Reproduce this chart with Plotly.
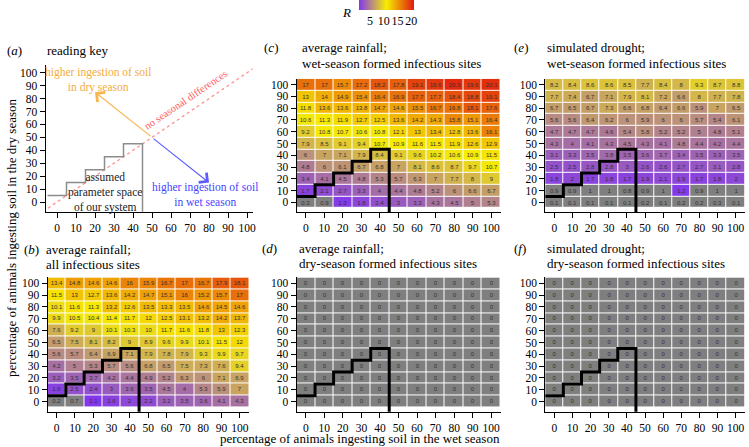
import plotly.graph_objects as go

W, H = 749, 447

# ---------------- data ----------------
pct = [0, 10, 20, 30, 40, 50, 60, 70, 80, 90, 100]   # % ingesting soil (both axes)
tick_vals = [0, 10, 20, 30, 40, 50, 60, 70, 80, 90, 100]
cbar_ticks = [5, 10, 15, 20]

# rows listed from dry-season 100 (top) down to 0 (bottom); columns wet-season 0..100
b_rows = [
    [13.4, 14.8, 14.6, 14.6, 16, 15.9, 16.7, 17, 16.7, 17.9, 18.1],
    [11.5, 13, 12.7, 13.6, 14.2, 14.7, 15.1, 16, 15.2, 15.7, 17],
    [10.1, 11.6, 11.3, 13.2, 12.6, 13.5, 13.3, 13.5, 14.6, 14.5, 14.6],
    [9.9, 10.5, 10.4, 11.4, 11.7, 12, 12.5, 13.1, 13.2, 14.2, 13.7],
    [7.6, 9.2, 9, 10.1, 10.3, 10, 11.7, 11.6, 11.8, 13, 12.3],
    [6.5, 7.5, 8.1, 8.2, 9, 8.9, 9.6, 9.9, 10.1, 11.5, 12],
    [5.6, 5.7, 6.4, 6.9, 7.1, 7.9, 7.8, 7.9, 9.3, 9.9, 9.7],
    [4.2, 5, 5.3, 5.7, 5.6, 6.8, 6.5, 7.5, 7.3, 7.6, 9.4],
    [3.2, 3.5, 3.7, 4.2, 4.4, 4.9, 5.2, 6.3, 6, 7.1, 6.9],
    [1.6, 2.5, 2.4, 3, 3.6, 3.5, 4.5, 4, 5.3, 5.9, 7],
    [0.2, 0.7, 1.1, 1.6, 2, 2.2, 3.2, 3.5, 3.6, 4.1, 4.3],
]
c_rows = [
    [17, 17, 15.7, 17.2, 18.2, 17.8, 19.1, 19.6, 20.3, 19.6, 20.1],
    [13, 14, 14.9, 15.4, 16.4, 16.9, 17.7, 17.7, 18.4, 18.8, 19.1],
    [11.8, 13.6, 13.6, 13.8, 14.7, 14.6, 15.5, 16.7, 16.8, 18.1, 17.6],
    [10.6, 11.3, 11.9, 12.7, 12.5, 13.6, 14.2, 14.3, 15.8, 15.1, 16.4],
    [9.2, 10.8, 10.7, 10.6, 10.8, 12.1, 13, 13.4, 12.8, 13.6, 16.1],
    [7.9, 8.5, 9.1, 9.4, 10.7, 10.9, 11.6, 11.5, 11.9, 12.6, 12.9],
    [6, 7, 7.1, 7.9, 8.4, 9.1, 9.6, 10.2, 10.6, 10.9, 11.5],
    [4.8, 6, 6.1, 6.7, 6.8, 7, 8.1, 8.6, 8.7, 9.7, 10.7],
    [3.4, 4.1, 4.5, 4.8, 5.3, 5.7, 6.3, 7, 7.7, 8, 9],
    [1.7, 2.1, 2.7, 3.3, 4, 4.4, 4.8, 5.2, 6, 6.6, 6.7],
    [0.3, 0.9, 1.3, 1.8, 2.4, 3, 3.3, 4.3, 4.5, 5, 5.3],
]
d_rows = [
    [0, 0, 0, 0, 0, 0, 0, 0, 0, 0, 0],
    [0, 0, 0, 0, 0, 0, 0, 0, 0, 0, 0],
    [0, 0, 0, 0, 0, 0, 0, 0, 0, 0, 0],
    [0, 0, 0, 0, 0, 0, 0, 0, 0, 0, 0],
    [0, 0, 0, 0, 0, 0, 0, 0, 0, 0, 0],
    [0, 0, 0, 0, 0, 0, 0, 0, 0, 0, 0],
    [0, 0, 0, 0, 0, 0, 0, 0, 0, 0, 0],
    [0, 0, 0, 0, 0, 0, 0, 0, 0, 0, 0],
    [0, 0, 0, 0, 0, 0, 0, 0, 0, 0, 0],
    [0, 0, 0, 0, 0, 0, 0, 0, 0, 0, 0],
    [0, 0, 0, 0, 0, 0, 0, 0, 0, 0, 0],
]
e_rows = [
    [8.2, 8.4, 8.6, 8.6, 8.5, 7.7, 8.4, 8, 9.3, 8.7, 8.8],
    [7.7, 7.4, 6.7, 7.1, 7.9, 8.1, 7.2, 6.6, 8, 7.7, 7.8],
    [6.7, 6.5, 6.7, 7.3, 6.6, 6.8, 6.4, 6.6, 5.9, 7, 6.5],
    [5.6, 5.6, 6.4, 6.2, 6, 5.9, 6, 6, 5.7, 5.4, 6.1],
    [4.7, 4.7, 4.7, 4.6, 5.4, 5.8, 5.2, 5.2, 5, 4.8, 5.1],
    [4.3, 4, 4.1, 4.3, 4.5, 4.3, 4.1, 4.8, 4.4, 4.2, 4.4],
    [3.1, 3.3, 3.5, 3.8, 3.5, 3.6, 3.7, 3.4, 3.5, 3.3, 3.5],
    [2.5, 2.5, 2.8, 2.8, 3, 2.6, 2.6, 2.7, 2.7, 3.1, 2.8],
    [1.8, 2, 1.7, 1.8, 1.7, 1.9, 2.1, 1.9, 1.7, 1.8, 2],
    [0.9, 0.9, 1, 1, 0.8, 0.9, 1, 1.2, 0.9, 1, 1],
    [0.1, 0.1, 0.1, 0.1, 0.1, 0.2, 0.1, 0.2, 0.2, 0.3, 0.1],
]
f_rows = [
    [0, 0, 0, 0, 0, 0, 0, 0, 0, 0, 0],
    [0, 0, 0, 0, 0, 0, 0, 0, 0, 0, 0],
    [0, 0, 0, 0, 0, 0, 0, 0, 0, 0, 0],
    [0, 0, 0, 0, 0, 0, 0, 0, 0, 0, 0],
    [0, 0, 0, 0, 0, 0, 0, 0, 0, 0, 0],
    [0, 0, 0, 0, 0, 0, 0, 0, 0, 0, 0],
    [0, 0, 0, 0, 0, 0, 0, 0, 0, 0, 0],
    [0, 0, 0, 0, 0, 0, 0, 0, 0, 0, 0],
    [0, 0, 0, 0, 0, 0, 0, 0, 0, 0, 0],
    [0, 0, 0, 0, 0, 0, 0, 0, 0, 0, 0],
    [0, 0, 0, 0, 0, 0, 0, 0, 0, 0, 0],
]

# boundary of the assumed parameter space (staircase)
stair_x = [-5, 5, 5, 15, 15, 25, 25, 35, 35, 45, 45]
stair_y = [5, 5, 15, 15, 25, 25, 35, 35, 45, 45, -30]

# reading-key elements
diag = [-10, 110]
arrow_origin = (50, 50)
arrow_dry = (20, 85)
arrow_wet = (80, 15)

R_MIN, R_MAX, R_DEAD = 1, 21, 1.05

# ---------------- styles ----------------
SERIF = "Liberation Serif, Tinos, Times New Roman, Times, DejaVu Serif, serif"
SANS = "Liberation Sans, Arimo, Arial, Helvetica, sans-serif"
GRAY = "#7f7f7f"
C_LOW, C_MID, C_HIGH = "#8236ee", "#f7ee00", "#e01a10"
heat_cs = [[0, GRAY], [R_DEAD / R_MAX, GRAY], [R_DEAD / R_MAX, C_LOW],
           [(R_MIN + R_MAX) / 2 / R_MAX, C_MID], [1, C_HIGH]]
bar_cs = [[0, C_LOW], [0.5, C_MID], [1, C_HIGH]]


def px_x(p):
    return p / W


def px_y(p):
    return 1 - p / H


# panel geometry in pixels: (x0, x1, ytop, ybottom)
panels = {
    "a": dict(px=(45.6, 252.7, 65, 211.7), xr=[-6, 103], yr=[-7.5, 106]),
    "b": dict(px=(47.5, 249, 277.4, 411.7), xr=[-5, 105], yr=[-8.5, 105]),
    "c": dict(px=(296.5, 500.5, 78.8, 212.3), xr=[-5, 105], yr=[-8.5, 105]),
    "d": dict(px=(296.5, 500.5, 277.4, 411.7), xr=[-5, 105], yr=[-8.5, 105]),
    "e": dict(px=(545.2, 744.8, 78.8, 212.3), xr=[-5, 105], yr=[-8.5, 105]),
    "f": dict(px=(545.2, 744.8, 277.4, 411.7), xr=[-5, 105], yr=[-8.5, 105]),
}
order = ["a", "b", "c", "d", "e", "f"]
data_map = {"b": b_rows, "c": c_rows, "d": d_rows, "e": e_rows, "f": f_rows}

fig = go.Figure()
layout = dict(
    width=W, height=H, margin=dict(l=0, r=0, t=0, b=0, pad=0, autoexpand=False),
    paper_bgcolor="white", plot_bgcolor="white", showlegend=False,
    font=dict(family=SERIF, size=12, color="black"),
)

annotations = []
for i, key in enumerate(order):
    n = i + 1
    sx = "" if n == 1 else str(n)
    p = panels[key]
    x0, x1, yt, yb = p["px"]
    axis_common = dict(
        showgrid=False, zeroline=False, showline=True, linecolor="black",
        linewidth=1, ticks="outside", ticklen=5, tickwidth=1.3, tickcolor="black",
        tickvals=tick_vals, tickfont=dict(family=SERIF, size=11.5, color="black"),
        fixedrange=True, automargin=False,
    )
    layout["xaxis" + sx] = dict(axis_common, domain=[px_x(x0), px_x(x1)], range=p["xr"],
                                anchor="y" + sx)
    layout["yaxis" + sx] = dict(axis_common, domain=[px_y(yb), px_y(yt)], range=p["yr"],
                                anchor="x" + sx)
    xa, ya = "x" + sx, "y" + sx

    if key == "a":
        fig.add_trace(go.Scatter(x=diag, y=diag, mode="lines", xaxis=xa, yaxis=ya,
                                 line=dict(color="#ff9090", width=1.3, dash="dot"),
                                 hoverinfo="skip"))
        fig.add_trace(go.Scatter(x=stair_x, y=stair_y, mode="lines", xaxis=xa, yaxis=ya,
                                 line=dict(color="#8c8c8c", width=1.5), hoverinfo="skip"))
        for tip, col in [(arrow_dry, "#f7b54a"), (arrow_wet, "#5b5bff")]:
            annotations.append(dict(
                x=tip[0], y=tip[1], ax=arrow_origin[0], ay=arrow_origin[1],
                xref=xa, yref=ya, axref=xa, ayref=ya, text="", showarrow=True,
                arrowhead=4, arrowsize=2.2, arrowwidth=1.1, arrowcolor=col))
        annotations += [
            dict(x=21.5, y=94.5, xref=xa, yref=ya, showarrow=False,
                 text="higher ingestion of soil<br>in dry season",
                 font=dict(color="#f4ac3c", size=11.5, family=SERIF)),
            dict(x=78, y=5.5, xref=xa, yref=ya, showarrow=False,
                 text="higher ingestion of soil<br>in wet season",
                 font=dict(color="#4646ff", size=11.5, family=SERIF)),
            dict(x=25, y=7.5, xref=xa, yref=ya, showarrow=False,
                 text="assumed<br>parameter space<br>of our system",
                 font=dict(color="#222222", size=11.5, family=SERIF)),
            dict(x=68, y=79, xref=xa, yref=ya, showarrow=False, textangle=-34,
                 text="no seasonal differences",
                 font=dict(color="#ff5a5a", size=10.5, family=SERIF)),
        ]
    else:
        rows = data_map[key][::-1]  # bottom (0) first
        txt = [[("%g" % v) for v in r] for r in rows]
        fig.add_trace(go.Heatmap(
            x=pct, y=pct, z=rows, text=txt, texttemplate="%{text}",
            textfont=dict(family=SANS, size=6, color="#333333"),
            colorscale=heat_cs, zmin=0, zmax=R_MAX, showscale=False,
            xgap=1, ygap=1, xaxis=xa, yaxis=ya, hoverinfo="skip"))
        fig.add_trace(go.Scatter(x=stair_x, y=stair_y, mode="lines", xaxis=xa, yaxis=ya,
                                 line=dict(color="black", width=3), hoverinfo="skip"))

# colour bar (drawn by an invisible trace)
fig.add_trace(go.Scatter(
    x=[None, None], y=[None, None], mode="markers", xaxis="x", yaxis="y",
    marker=dict(color=[R_MIN, R_MAX], cmin=R_MIN, cmax=R_MAX, colorscale=bar_cs,
                showscale=True,
                colorbar=dict(orientation="h", x=px_x(386.5), xanchor="center",
                              y=1, yanchor="top", len=55, lenmode="pixels",
                              thickness=10, thicknessmode="pixels", outlinewidth=0,
                              tickvals=cbar_ticks, ticks="", xpad=0, ypad=0,
                              tickangle=0,
                              tickfont=dict(family=SERIF, size=12)))))

# panel titles: (label, label x, first line y, lines, text x)
titles = [
    ("(<i>a</i>)", 5, 51, ["reading key"], 45),
    ("(<i>c</i>)", 262, 48, ["average rainfall;", "wet-season formed infectious sites"], 300),
    ("(<i>e</i>)", 512, 48, ["simulated drought;", "wet-season formed infectious sites"], 545),
    ("(<i>b</i>)", 22, 249, ["average rainfall;", "all infectious sites"], 44),
    ("(<i>d</i>)", 260, 248, ["average rainfall;", "dry-season formed infectious sites"], 297),
    ("(<i>f</i>)", 512, 248, ["simulated drought;", "dry-season formed infectious sites"], 545),
]
for lab, lx, ly, lines, tx in titles:
    annotations.append(dict(x=px_x(lx), y=px_y(ly), xref="paper", yref="paper",
                            xanchor="left", yanchor="middle", showarrow=False, text=lab,
                            font=dict(size=13, family=SERIF)))
    for k, line in enumerate(lines):
        annotations.append(dict(x=px_x(tx), y=px_y(ly + 15.5 * k), xref="paper", yref="paper",
                                xanchor="left", yanchor="middle", showarrow=False, text=line,
                                font=dict(size=13, family=SERIF)))

annotations += [
    dict(x=px_x(11), y=px_y(238), xref="paper", yref="paper", textangle=-90,
         xanchor="center", yanchor="middle",
         showarrow=False, text="percentage of animals ingesting soil in the dry season",
         font=dict(size=13, family=SERIF)),
    dict(x=px_x(360), y=px_y(438), xref="paper", yref="paper",
         xanchor="center", yanchor="middle",
         showarrow=False, text="percentage of animals ingesting soil in the wet season",
         font=dict(size=13, family=SERIF)),
    dict(x=px_x(346), y=px_y(13), xref="paper", yref="paper",
         xanchor="center", yanchor="middle",
         showarrow=False, text="<i>R</i>", font=dict(size=13, family=SERIF)),
]
layout["annotations"] = annotations
fig.update_layout(**layout)
fig.write_html("out.html", config={"displayModeBar": False},
               post_script="document.body.style.margin='0';document.body.style.padding='0';")
